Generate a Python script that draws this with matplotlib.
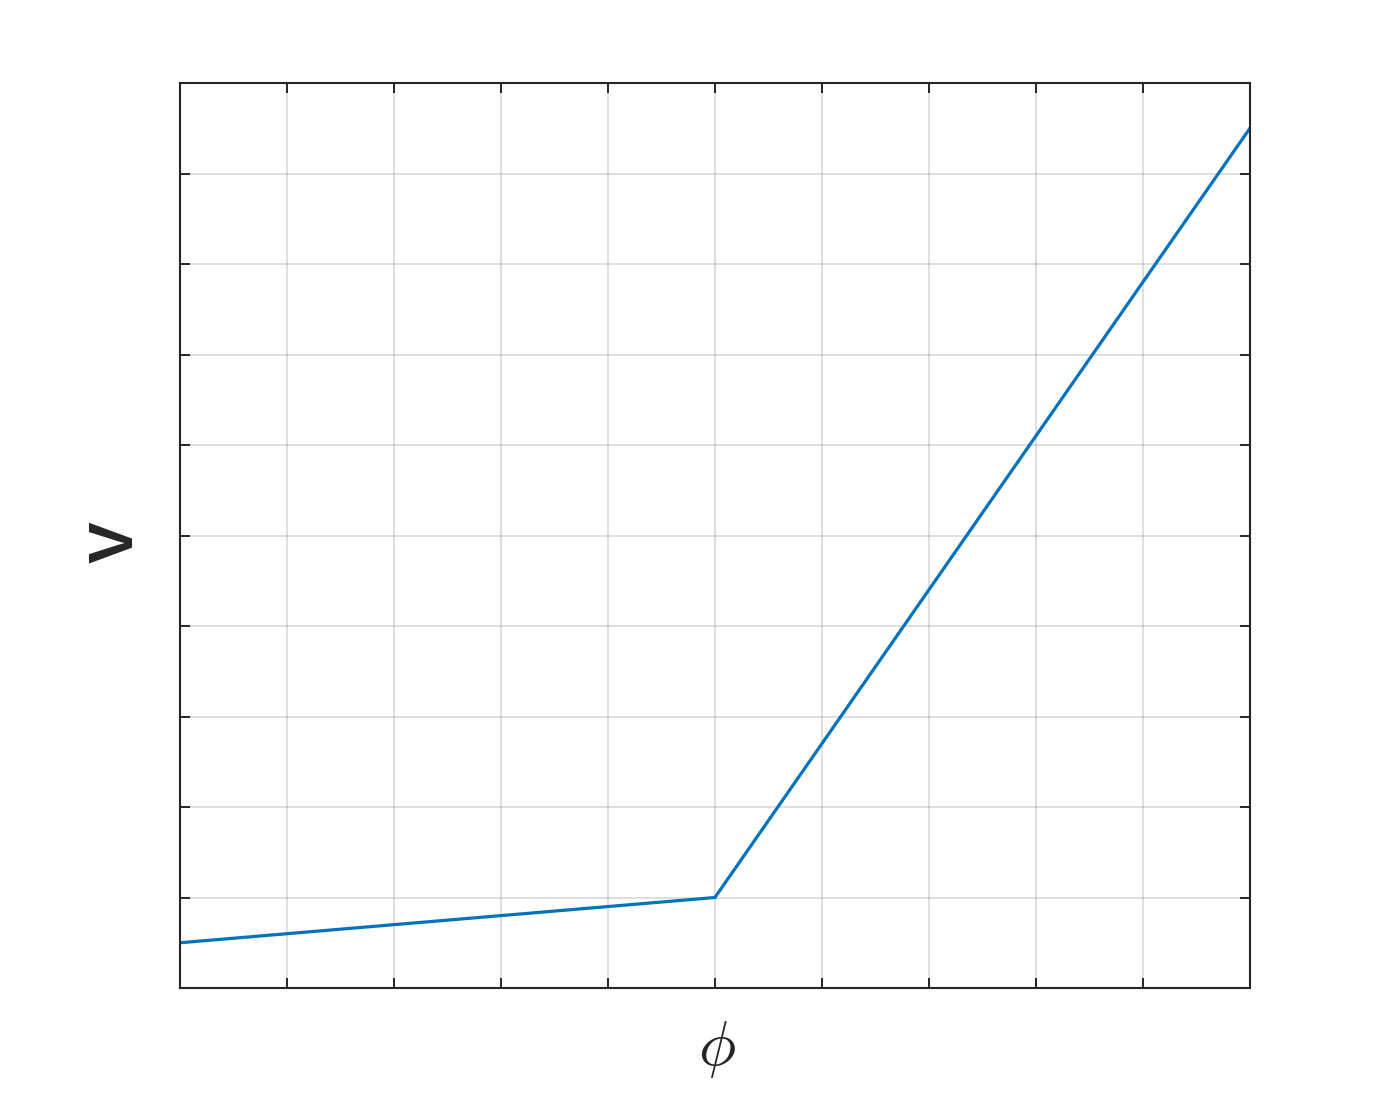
import numpy as np
import matplotlib
matplotlib.use("Agg")
from matplotlib import pyplot as plt

# piecewise linear potential V(phi)
phi = [0, 5, 10]
V = [0.5, 1.0, 9.5]
xticks = np.arange(0, 11, 1)
yticks = np.arange(0, 11, 1)

plt.rcParams['mathtext.fontset'] = 'cm'

fig = plt.figure(figsize=(13.82, 11.10), dpi=100)
ax = fig.add_axes([0.1302, 0.1099, 0.7742, 0.8153])

ax.plot(phi, V, color='#0072BD', linewidth=2.3)

ax.set_xlim(0, 10)
ax.set_ylim(0, 10)
ax.set_xticks(xticks)
ax.set_yticks(yticks)
ax.set_xticklabels([])
ax.set_yticklabels([])
ax.tick_params(direction='in', length=7, width=1.4, color='#262626',
               top=True, right=True)
ax.grid(True, color='#262626', alpha=0.15, linewidth=1.4)
for s in ax.spines.values():
    s.set_color('#262626')
    s.set_linewidth(1.5)

ax.set_xlabel(r'$\phi$', fontsize=45, color='#262626', va='center')
ax.xaxis.set_label_coords(0.502, -0.068)
ax.set_ylabel('V', fontsize=45, fontweight='bold', color='#262626',
              va='center', family='Liberation Sans')
ax.yaxis.set_label_coords(-0.06, 0.493)

plt.savefig('out.png', dpi=100)
plt.close()
